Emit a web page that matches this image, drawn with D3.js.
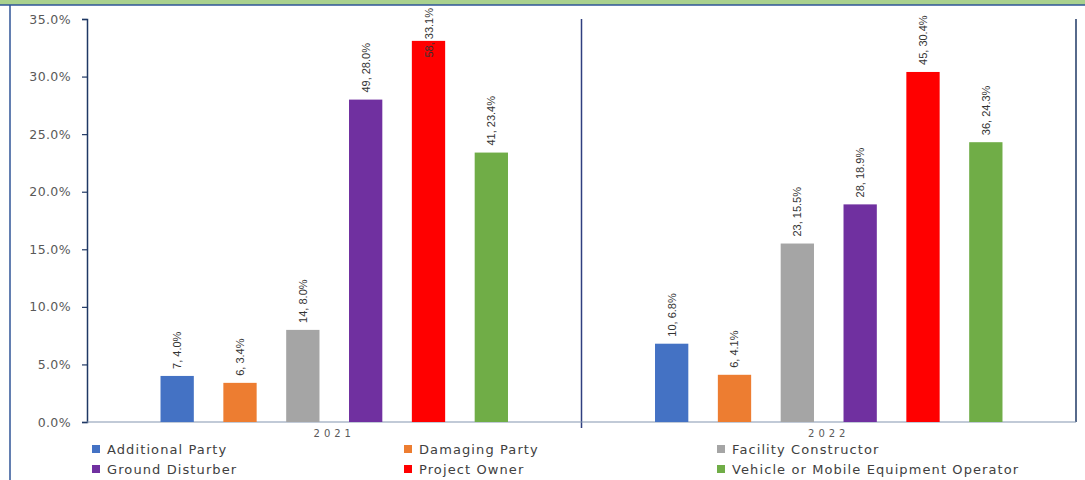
<!DOCTYPE html>
<html><head><meta charset="utf-8">
<script src="https://cdn.jsdelivr.net/npm/d3@7"></script>
<style>body{margin:0;background:#fff;}svg{display:block;}</style>
</head><body>
<svg id="c" width="1085" height="480"></svg>
<script>
const years = ["2021", "2022"];
const categories = ["Additional Party", "Damaging Party", "Facility Constructor", "Ground Disturber", "Project Owner", "Vehicle or Mobile Equipment Operator"];
const colors = ["#4472C4", "#ED7D31", "#A5A5A5", "#7030A0", "#FF0000", "#70AD47"];
const pct2021 = [4.0, 3.4, 8.0, 28.0, 33.1, 23.4];
const cnt2021 = [7, 6, 14, 49, 58, 41];
const pct2022 = [6.8, 4.1, 15.5, 18.9, 30.4, 24.3];
const cnt2022 = [10, 6, 23, 28, 45, 36];
const yTicks = [0, 5, 10, 15, 20, 25, 30, 35];

const pctByYear = {"2021": pct2021, "2022": pct2022};
const cntByYear = {"2021": cnt2021, "2022": cnt2022};

const svg = d3.select("#c");
const L = 87, R = 1076, T = 19, B = 422;

// top band + frame
svg.append("rect").attr("x", 0).attr("y", 0).attr("width", 1085).attr("height", 5).attr("fill", "#A9D18E");
svg.append("line").attr("x1", 0).attr("x2", 1085).attr("y1", 5).attr("y2", 5).attr("stroke", "#2F5597").attr("stroke-width", 1.5);
svg.append("line").attr("x1", 10).attr("x2", 10).attr("y1", 5).attr("y2", 480).attr("stroke", "#2F5597").attr("stroke-width", 1.5);

const y = d3.scaleLinear().domain([0, 35]).range([B, T]);
const x0 = d3.scaleBand().domain(years).range([L, R]).padding(0);
const x1 = d3.scaleBand().domain(categories).range([0, x0.bandwidth()]).paddingInner(0.47).paddingOuter(1.17);

// y axis
const yAxis = svg.append("g").attr("transform", `translate(${L},0)`)
  .call(d3.axisLeft(y).tickValues(yTicks).tickSize(5).tickFormat(d => d.toFixed(1) + "%"));
yAxis.select(".domain").attr("stroke", "#1F3864").attr("stroke-width", 1.5);
yAxis.selectAll(".tick line").attr("stroke", "#1F3864").attr("stroke-width", 1.2);
yAxis.selectAll("text").attr("fill", "#595959").style("font-family", "DejaVu Sans").style("font-size", "12.5px").style("letter-spacing", "0.4px").attr("x", -16);

// right + separator lines
svg.append("line").attr("x1", R).attr("x2", R).attr("y1", T).attr("y2", B).attr("stroke", "#1F3864").attr("stroke-width", 1.5);
svg.append("line").attr("x1", x0("2022")).attr("x2", x0("2022")).attr("y1", T).attr("y2", B + 6).attr("stroke", "#2F3F7F").attr("stroke-width", 1.5);

// x axis line
svg.append("line").attr("x1", L).attr("x2", R).attr("y1", B).attr("y2", B).attr("stroke", "#8496B0").attr("stroke-width", 1.2);

// bars
const groups = svg.selectAll("g.grp").data(years).join("g").attr("class", "grp")
  .attr("transform", d => `translate(${x0(d)},0)`);

groups.selectAll("rect").data(yr => categories.map((c, i) => ({c, i, v: pctByYear[yr][i], n: cntByYear[yr][i]})))
  .join("rect")
  .attr("x", d => x1(d.c)).attr("width", x1.bandwidth())
  .attr("y", d => y(d.v)).attr("height", d => B - y(d.v))
  .attr("fill", d => colors[d.i]);

groups.selectAll("text.lbl").data(yr => categories.map((c, i) => ({c, i, v: pctByYear[yr][i], n: cntByYear[yr][i]})))
  .join("text").attr("class", "lbl")
  .text(d => `${d.n}, ${d.v.toFixed(1)}%`)
  .style("font-family", "Liberation Sans Narrow, Liberation Sans, sans-serif")
  .style("font-size", "11px")
  .attr("fill", "#333")
  .each(function(d) {
    const len = this.getComputedTextLength();
    const cx = x1(d.c) + x1.bandwidth() / 2 + 4;
    const start = Math.max(y(d.v) - 7, 8 + len);
    d3.select(this).attr("transform", `translate(${cx},${start}) rotate(-90)`);
  });

// year labels
groups.append("text").text(d => d)
  .attr("x", x0.bandwidth() / 2).attr("y", B + 15)
  .attr("text-anchor", "middle")
  .style("font-family", "DejaVu Sans").style("font-size", "10px")
  .style("letter-spacing", "4px")
  .attr("fill", "#595959");

// legend
const legX = [92, 404, 717];
const legY = [449, 469];
const leg = svg.selectAll("g.leg").data(categories).join("g").attr("class", "leg")
  .attr("transform", (d, i) => `translate(${legX[i % 3]},${legY[Math.floor(i / 3)]})`);
leg.append("rect").attr("x", 0).attr("y", -4).attr("width", 8).attr("height", 8).attr("fill", (d, i) => colors[i]);
leg.append("text").text(d => d).attr("x", 15).attr("y", 0).attr("dy", "0.35em")
  .style("font-family", "DejaVu Sans").style("font-size", "13px").style("letter-spacing", "1.1px")
  .attr("fill", "#404040");
</script>
</body></html>
